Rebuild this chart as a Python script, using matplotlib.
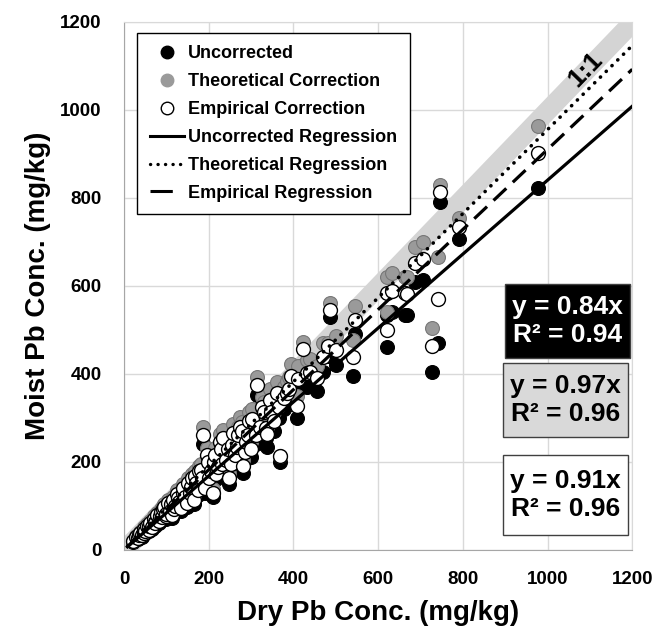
import numpy as np
import matplotlib
matplotlib.use("Agg")
import matplotlib.pyplot as plt
from matplotlib.lines import Line2D
from matplotlib.patches import Rectangle

plt.rcParams['font.family'] = ['Liberation Sans', 'DejaVu Sans']
plt.rcParams['font.weight'] = 'bold'

# dry Pb concentration of each sample (mg/kg)
dry = [22, 28, 33, 35, 38, 42, 46, 48, 50, 54, 58, 60, 62, 66, 70, 72, 74, 78,
       82, 84, 86, 90, 92, 95, 98, 100, 104, 108, 110, 112, 116, 118, 120, 125,
       128, 130, 135, 138, 140, 145, 148, 150, 155, 158, 160, 165, 168, 170,
       175, 178, 182, 185, 187, 192, 195, 198, 200, 205, 210, 212, 215, 218,
       222, 226, 228, 232, 234, 240, 245, 248, 252, 255, 258, 262, 266, 270,
       274, 278, 280, 285, 288, 292, 295, 300, 302, 312, 314, 320, 325, 330,
       335, 338, 345, 348, 355, 362, 365, 369, 378, 385, 390, 395, 409, 410,
       423, 432, 440, 455, 470, 482, 487, 500, 541, 546, 621, 621, 633, 664,
       668, 687, 706, 727, 742, 745, 792, 978]

# moist Pb concentration, three versions (mg/kg)
uncorrected = [18, 26, 24, 30, 35, 30, 44, 36, 38, 50, 42, 50, 57, 48, 66, 58,
               55, 72, 60, 70, 80, 68, 85, 90, 70, 76, 98, 82, 95, 72, 105, 85,
               92, 118, 108, 100, 88, 120, 130, 112, 98, 140, 120, 132, 150,
               105, 155, 140, 125, 165, 168, 150, 240, 130, 200, 185, 150, 165,
               120, 185, 200, 160, 175, 225, 210, 180, 235, 190, 210, 150, 180,
               220, 245, 200, 215, 240, 258, 250, 175, 205, 225, 240, 270, 210,
               275, 240, 352, 260, 300, 290, 255, 234, 315, 290, 270, 330, 300,
               200, 320, 330, 340, 365, 300, 360, 420, 370, 375, 360, 405, 440,
               530, 420, 395, 490, 461, 534, 540, 534, 534, 609, 614, 405, 470,
               791, 707, 823]
theoretical = [21, 31, 30, 35, 41, 36, 51, 42, 45, 58, 50, 58, 66, 57, 76, 68,
               64, 83, 71, 82, 92, 79, 99, 104, 81, 88, 113, 96, 110, 84, 121,
               99, 107, 136, 125, 116, 102, 139, 150, 130, 114, 162, 139, 153,
               173, 122, 180, 162, 145, 190, 196, 174, 280, 150, 232, 213, 174,
               190, 139, 215, 232, 186, 202, 262, 245, 209, 273, 220, 244, 174,
               209, 255, 285, 232, 250, 278, 302, 290, 203, 238, 262, 278, 313,
               244, 319, 279, 393, 300, 348, 335, 296, 280, 365, 336, 312, 382,
               348, 214, 370, 383, 392, 423, 350, 418, 473, 432, 434, 418, 470,
               470, 561, 485, 477, 555, 541, 620, 630, 620, 620, 689, 700, 505,
               666, 830, 755, 964]
empirical = [20, 29, 27, 33, 38, 33, 48, 39, 42, 54, 46, 54, 61, 52, 71, 63,
             60, 78, 66, 76, 86, 74, 92, 97, 76, 82, 106, 89, 103, 78, 113, 92,
             100, 127, 117, 108, 95, 130, 140, 121, 106, 151, 130, 143, 162, 114,
             168, 151, 135, 178, 182, 162, 261, 141, 216, 200, 162, 178, 130,
             200, 216, 173, 189, 244, 228, 195, 255, 205, 228, 162, 195, 238,
             265, 216, 233, 260, 280, 271, 190, 222, 244, 260, 292, 228, 298,
             260, 375, 280, 325, 312, 277, 262, 340, 314, 292, 356, 325, 212,
             345, 357, 366, 395, 326, 388, 457, 402, 405, 390, 439, 463, 545,
             455, 438, 523, 500, 584, 587, 584, 582, 652, 661, 462, 570, 812,
             734, 902]

slopes = [0.84, 0.955, 0.91]      # drawn regression slopes (through origin)
eq_labels = ["y = 0.84x\nR² = 0.94", "y = 0.97x\nR² = 0.96", "y = 0.91x\nR² = 0.96"]
ticks = [0, 200, 400, 600, 800, 1000, 1200]

fig = plt.figure(figsize=(6.6, 6.4), dpi=100)
ax = fig.add_axes([0.188, 0.141, 0.770, 0.825])

# 1:1 band
xs = np.array([0, 1250])
ax.fill_between(xs, xs - 32, xs + 32, color='#d4d4d4', lw=0, zorder=1)

ax.scatter(dry, uncorrected, s=100, c='black', edgecolors='black', lw=0.8, zorder=3)
ax.scatter(dry, theoretical, s=100, c='#9a9a9a', edgecolors='#777777', lw=0.8, zorder=4)
ax.scatter(dry, empirical, s=100, c='white', edgecolors='black', lw=1.0, zorder=5)

dot = (0, (0.05, 2.2))
dash = (0, (5.5, 2.8))
xl = np.array([8, 1200])
ax.plot(xl, slopes[0] * xl, color='black', lw=2.3, zorder=6)
ax.plot(xl, slopes[1] * xl, color='black', lw=2.6, ls=dot,
        dash_capstyle='round', zorder=6)
ax.plot(xl, slopes[2] * xl, color='black', lw=2.3, ls=dash, zorder=6)

ax.text(1090, 1092, "1:1", rotation=46, ha='center', va='center', fontsize=19,
        fontweight='bold', zorder=2)

ax.set_xlim(0, 1200)
ax.set_ylim(0, 1200)
ax.set_xticks(ticks)
ax.set_yticks(ticks)
ax.grid(True, color='#d9d9d9', lw=1.0, zorder=0)
ax.set_axisbelow(True)
for sp in ax.spines.values():
    sp.set_color('#d9d9d9')
ax.spines['left'].set_color('#a6a6a6')
ax.spines['bottom'].set_color('#a6a6a6')
ax.tick_params(length=0, labelsize=13.5)
ax.tick_params(axis='x', pad=15)
ax.tick_params(axis='y', pad=16)
for lab in ax.get_xticklabels() + ax.get_yticklabels():
    lab.set_fontweight('bold')

ax.set_xlabel("Dry Pb Conc. (mg/kg)", fontsize=20, fontweight='bold', labelpad=9)
ax.set_ylabel("Moist Pb Conc. (mg/kg)", fontsize=20, fontweight='bold', labelpad=7)

handles = [
    Line2D([], [], ls='none', marker='o', ms=9, mfc='black', mec='black'),
    Line2D([], [], ls='none', marker='o', ms=9, mfc='#9a9a9a', mec='#9a9a9a'),
    Line2D([], [], ls='none', marker='o', ms=9, mfc='white', mec='black'),
    Line2D([], [], color='black', lw=2.2),
    Line2D([], [], color='black', lw=2.4, ls=dot, dash_capstyle='round'),
    Line2D([], [], color='black', lw=2.2, ls=(0, (7.3, 20))),
]
labels = ["Uncorrected", "Theoretical Correction", "Empirical Correction",
          "Uncorrected Regression", "Theoretical Regression", "Empirical Regression"]
leg = ax.legend(handles, labels, loc='upper left', bbox_to_anchor=(0.026, 0.979),
                borderaxespad=0, prop={'weight': 'bold', 'size': 13},
                frameon=True, fancybox=False, edgecolor='black', framealpha=1,
                handlelength=1.9, handletextpad=0.2, labelspacing=0.6,
                borderpad=0.7)
leg.get_frame().set_linewidth(1.0)
leg.set_zorder(10)

# regression equation boxes (axes fraction)
box_fc = ['black', '#d9d9d9', 'white']
box_tc = ['white', 'black', 'black']
box_x = [0.750, 0.746, 0.746]
box_y = [0.364, 0.214, 0.028]
box_h = [0.140, 0.140, 0.152]
for lab, fc, tc, bx, by, bh in zip(eq_labels, box_fc, box_tc, box_x, box_y, box_h):
    ax.add_patch(Rectangle((bx, by), 0.246, bh, transform=ax.transAxes,
                           fc=fc, ec='#404040', lw=1.0, zorder=11))
    ax.text(bx + 0.123, by + bh / 2, lab, transform=ax.transAxes, ha='center',
            va='center', fontsize=19, fontweight='bold', color=tc,
            linespacing=1.2, zorder=12)

fig.savefig("out.png", dpi=100)
